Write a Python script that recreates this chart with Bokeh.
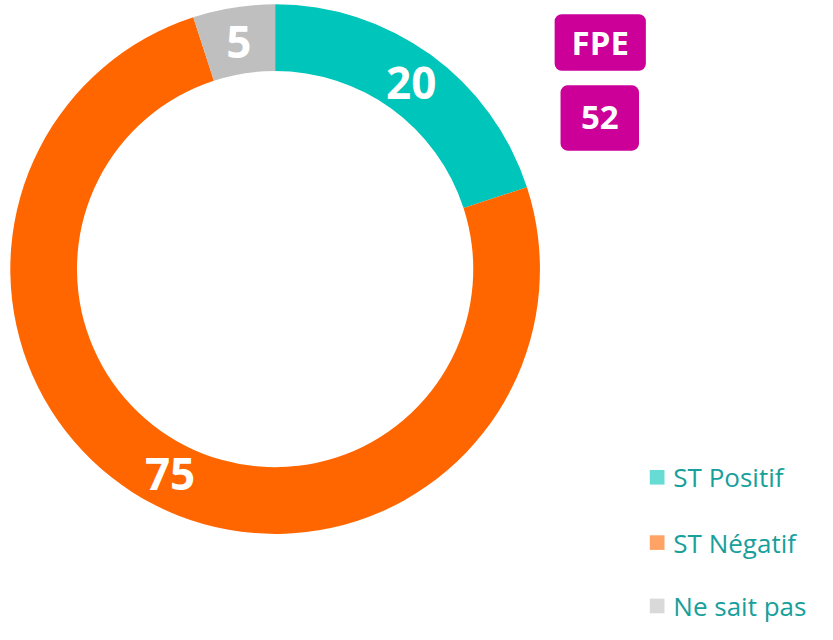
import math
from bokeh.plotting import figure
from bokeh.models import ColumnDataSource, Range1d, BoxAnnotation, Label
from bokeh.core.properties import value
from bokeh.embed import file_html
from bokeh.resources import INLINE

# ---- data ----
categories = ["ST Positif", "ST Négatif", "Ne sait pas"]
values = [20, 75, 5]
labels = ["20", "75", "5"]
colors = ["#00C5BA", "#FF6600", "#BFBFBF"]
legend_colors = ["#66DCD5", "#FFA266", "#D9D9D9"]
badge_title = "FPE"
badge_value = "52"

W, H = 833, 640
FONT = "Open Sans"

def Y(py):
    return H - py

cx, cy = 280, Y(275.5)
r_in, r_out = 202, 270

total = sum(values)
starts, ends, mids = [], [], []
cum = 0
for v in values:
    a0 = math.pi / 2 - 2 * math.pi * cum / total
    cum += v
    a1 = math.pi / 2 - 2 * math.pi * cum / total
    starts.append(a0)
    ends.append(a1)
    mids.append((a0 + a1) / 2)

r_mid = (r_in + r_out) / 2
src = ColumnDataSource(dict(
    start=starts, end=ends, color=colors, cat=categories,
    lx=[cx + r_mid * math.cos(m) for m in mids],
    ly=[cy + r_mid * math.sin(m) for m in mids],
    lab=labels,
))

p = figure(width=W - 16, height=H - 16, output_backend="svg", toolbar_location=None,
           x_range=Range1d(0, W), y_range=Range1d(0, H),
           x_axis_location=None, y_axis_location=None,
           min_border=0, outline_line_color=None)
p.grid.visible = False
p.background_fill_color = "white"

p.annular_wedge(x=cx, y=cy, inner_radius=r_in, outer_radius=r_out,
                start_angle="start", end_angle="end", direction="clock",
                fill_color="color", line_color=None, source=src)

p.text(x="lx", y="ly", text="lab", source=src, text_color="white",
       text_font=value(FONT), text_font_style="bold", text_font_size="44px",
       text_align="center", text_baseline="middle")

# badges
p.add_layout(BoxAnnotation(left=565, right=658, top=Y(14), bottom=Y(72),
                           fill_color="#CC0099", fill_alpha=1, line_color=None,
                           border_radius=7))
p.add_layout(BoxAnnotation(left=571, right=651, top=Y(87), bottom=Y(154),
                           fill_color="#CC0099", fill_alpha=1, line_color=None,
                           border_radius=7))
p.add_layout(Label(x=611.5, y=Y(43), text=badge_title, text_color="white",
                   text_font=FONT, text_font_style="bold", text_font_size="33px",
                   text_align="center", text_baseline="middle"))
p.add_layout(Label(x=611, y=Y(120.5), text=badge_value, text_color="white",
                   text_font=FONT, text_font_style="bold", text_font_size="33px",
                   text_align="center", text_baseline="middle"))

# legend
leg_y = [Y(489), Y(556), Y(621)]
leg = ColumnDataSource(dict(x=[669.5] * 3, tx=[686] * 3, y=leg_y,
                            color=legend_colors, cat=categories))
p.rect(x="x", y="y", width=15, height=15, fill_color="color", line_color=None, source=leg)
p.text(x="tx", y="y", text="cat", source=leg, text_color="#17A09B",
       text_font=value(FONT), text_font_size="26px",
       text_align="left", text_baseline="middle")

open("out.html", "w").write(file_html(p, INLINE))
